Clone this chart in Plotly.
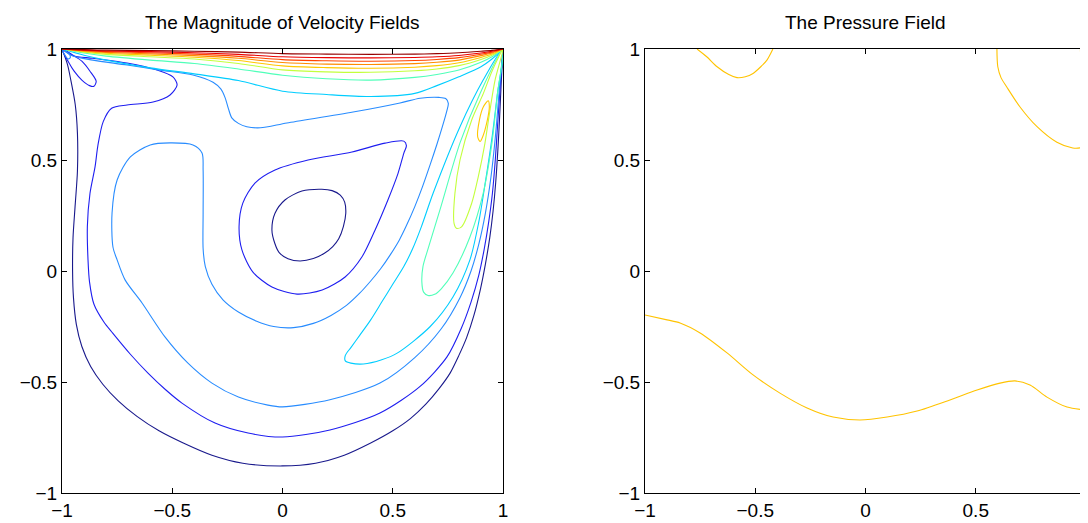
import plotly.graph_objects as go

# ---------------- data ----------------
tick_vals = [-1, -0.5, 0, 0.5, 1]
tick_text = ["\u22121", "\u22120.5", "0", "0.5", "1"]

# Velocity magnitude contours (left panel)
# Level 1 (darkest)
v1_loop_x = [0.178, 0.088, 0.011, -0.034, -0.048, -0.035, -0.015, 0.025, 0.08, 0.14, 0.19, 0.228, 0.255, 0.276, 0.287, 0.282, 0.262, 0.225, 0.178]
v1_loop_y = [0.368, 0.36, 0.32, 0.26, 0.185, 0.125, 0.083, 0.055, 0.045, 0.056, 0.08, 0.11, 0.145, 0.2, 0.26, 0.31, 0.342, 0.362, 0.368]
v1_outer_x = [-1, -0.975, -0.96, -0.94, -0.93, -0.93, -0.94, -0.95, -0.952, -0.948, -0.935, -0.91, -0.87, -0.815, -0.745, -0.66, -0.56, -0.45, -0.32, -0.18, 0, 0.15, 0.28, 0.4, 0.5, 0.58, 0.65, 0.71, 0.76, 0.8, 0.835, 0.868, 0.898, 0.92, 0.94, 0.955, 0.967, 0.977, 0.985, 0.992, 1]
v1_outer_y = [1, 0.93, 0.86, 0.75, 0.62, 0.45, 0.3, 0.15, 0.0, -0.12, -0.24, -0.34, -0.43, -0.51, -0.585, -0.655, -0.72, -0.775, -0.83, -0.866, -0.878, -0.866, -0.83, -0.775, -0.72, -0.665, -0.6, -0.53, -0.46, -0.38, -0.3, -0.2, -0.08, 0.03, 0.15, 0.27, 0.4, 0.55, 0.7, 0.85, 1]
# Level 2
v2_drop_x = [0.55, 0.465, 0.315, 0.116, -0.034, -0.125, -0.18, -0.197, -0.184, -0.134, -0.048, 0.066, 0.18, 0.284, 0.36, 0.42, 0.478, 0.524, 0.55, 0.562, 0.55]
v2_drop_y = [0.585, 0.576, 0.536, 0.5, 0.455, 0.396, 0.306, 0.2, 0.095, -0.005, -0.072, -0.104, -0.086, -0.027, 0.063, 0.185, 0.32, 0.44, 0.53, 0.565, 0.585]
v2_petal_x = [-1, -0.95, -0.91, -0.873, -0.845, -0.855, -0.875, -0.91, -0.945, -0.97, -1]
v2_petal_y = [1, 0.972, 0.945, 0.9, 0.855, 0.832, 0.835, 0.86, 0.9, 0.94, 1]
v2_outer_x = [-1, -0.95, -0.86, -0.705, -0.569, -0.497, -0.478, -0.51, -0.587, -0.705, -0.775, -0.813, -0.837, -0.85, -0.873, -0.885, -0.882, -0.875, -0.855, -0.81, -0.77, -0.69, -0.61, -0.53, -0.456, -0.306, -0.156, 0, 0.215, 0.442, 0.624, 0.746, 0.81, 0.855, 0.89, 0.915, 0.935, 0.952, 0.965, 0.975, 0.985, 1]
v2_outer_y = [1, 0.97, 0.958, 0.937, 0.905, 0.874, 0.838, 0.793, 0.761, 0.748, 0.733, 0.673, 0.567, 0.47, 0.35, 0.2, 0.05, -0.05, -0.15, -0.23, -0.28, -0.375, -0.46, -0.535, -0.595, -0.685, -0.73, -0.748, -0.716, -0.64, -0.52, -0.387, -0.26, -0.14, -0.02, 0.1, 0.22, 0.35, 0.5, 0.65, 0.8, 1]
# Level 3
v3_main_x = [1, 0.982, 0.965, 0.945, 0.92, 0.89, 0.855, 0.805, 0.72, 0.6, 0.442, 0.215, 0, -0.066, -0.2, -0.32, -0.43, -0.533, -0.637, -0.714, -0.75, -0.769, -0.773, -0.75, -0.69, -0.6, -0.51, -0.406, -0.365, -0.36, -0.36, -0.36, -0.35, -0.32, -0.27, -0.2, -0.12, -0.04, 0.05, 0.14, 0.22, 0.29, 0.35, 0.4, 0.445, 0.49, 0.53, 0.56, 0.6, 0.635, 0.67, 0.7, 0.725, 0.745, 0.752, 0.74, 0.71, 0.624, 0.533, 0.32, 0.02, -0.1, -0.162, -0.2, -0.23, -0.245, -0.26, -0.28, -0.315, -0.406, -0.556, -0.705, -0.86, -0.95, -1]
v3_main_y = [1, 0.8, 0.6, 0.42, 0.26, 0.12, 0.0, -0.12, -0.26, -0.39, -0.505, -0.58, -0.612, -0.604, -0.568, -0.505, -0.414, -0.297, -0.144, -0.04, 0.05, 0.108, 0.261, 0.41, 0.514, 0.568, 0.577, 0.568, 0.532, 0.455, 0.261, 0.1, 0.02, -0.06, -0.13, -0.185, -0.225, -0.25, -0.255, -0.236, -0.2, -0.155, -0.1, -0.045, 0.01, 0.075, 0.14, 0.2, 0.29, 0.38, 0.48, 0.57, 0.65, 0.72, 0.755, 0.777, 0.782, 0.778, 0.757, 0.716, 0.667, 0.645, 0.65, 0.665, 0.69, 0.73, 0.78, 0.82, 0.85, 0.883, 0.905, 0.928, 0.95, 0.968, 1]
v3_corner_x = [-1, -0.985, -0.972, -0.962, -0.97, -1]
v3_corner_y = [1, 0.97, 0.955, 0.962, 0.98, 1]
# Level 4
v4_finger_x = [1, 0.91, 0.805, 0.683, 0.63, 0.59, 0.55, 0.5, 0.45, 0.4, 0.35, 0.31, 0.285, 0.285, 0.31, 0.367, 0.45, 0.52, 0.67, 0.773, 0.85, 0.89, 0.92, 0.95, 0.975, 1]
v4_finger_y = [1, 0.86, 0.65, 0.35, 0.2, 0.1, 0.02, -0.06, -0.14, -0.22, -0.29, -0.345, -0.38, -0.405, -0.415, -0.419, -0.4, -0.37, -0.25, -0.117, 0.05, 0.22, 0.4, 0.6, 0.8, 1]
# Level 5
v5_finger_x = [1, 0.896, 0.805, 0.714, 0.66, 0.637, 0.632, 0.64, 0.66, 0.69, 0.72, 0.773, 0.85, 0.91, 0.95, 0.975, 1]
v5_finger_y = [1, 0.8, 0.577, 0.275, 0.1, 0.02, -0.05, -0.095, -0.11, -0.105, -0.08, -0.009, 0.153, 0.35, 0.577, 0.8, 1]
# Level 6
v6_finger_x = [1, 0.95, 0.911, 0.858, 0.805, 0.782, 0.778, 0.79, 0.813, 0.858, 0.888, 0.918, 0.941, 0.964, 1]
v6_finger_y = [1, 0.9, 0.8, 0.68, 0.5, 0.35, 0.215, 0.192, 0.2, 0.305, 0.425, 0.575, 0.725, 0.86, 1]
# Level 7
v7_loop_x = [0.933, 0.938, 0.929, 0.908, 0.896, 0.885, 0.893, 0.911, 0.933]
v7_loop_y = [0.767, 0.74, 0.68, 0.605, 0.583, 0.605, 0.68, 0.74, 0.767]
# Lines under the moving lid (levels 4 .. 11)
lid_x = [-1, -0.9, -0.8, -0.6, -0.4, -0.2, 0, 0.2, 0.4, 0.6, 0.7, 0.8, 0.9, 0.95, 1]
lid_y_4 = [1, 0.972, 0.95, 0.915, 0.888, 0.858, 0.81, 0.795, 0.786, 0.8, 0.835, 0.875, 0.92, 0.955, 1]
lid_y_5 = [1, 0.982, 0.968, 0.95, 0.935, 0.91, 0.882, 0.866, 0.86, 0.872, 0.885, 0.905, 0.94, 0.965, 1]
lid_y_6 = [1, 0.986, 0.976, 0.965, 0.955, 0.935, 0.906, 0.897, 0.895, 0.902, 0.91, 0.925, 0.953, 0.972, 1]
lid_y_7 = [1, 0.989, 0.981, 0.972, 0.963, 0.948, 0.924, 0.916, 0.913, 0.918, 0.925, 0.938, 0.962, 0.977, 1]
lid_y_8 = [1, 0.991, 0.985, 0.978, 0.97, 0.958, 0.939, 0.932, 0.93, 0.934, 0.94, 0.95, 0.97, 0.982, 1]
lid_y_9 = [1, 0.993, 0.988, 0.983, 0.977, 0.967, 0.952, 0.947, 0.945, 0.948, 0.953, 0.961, 0.976, 0.986, 1]
lid_y_10 = [1, 0.995, 0.991, 0.988, 0.983, 0.976, 0.965, 0.961, 0.96, 0.962, 0.965, 0.971, 0.982, 0.99, 1]
lid_y_11 = [1, 0.997, 0.995, 0.993, 0.99, 0.986, 0.979, 0.977, 0.976, 0.977, 0.979, 0.983, 0.99, 0.994, 1]

# Pressure contours (right panel)
p_topleft_x = [-0.764, -0.72, -0.673, -0.62, -0.583, -0.545, -0.51, -0.475, -0.447, -0.42]
p_topleft_y = [1, 0.965, 0.92, 0.885, 0.871, 0.875, 0.89, 0.92, 0.95, 1]
p_right_x = [0.596, 0.6, 0.615, 0.64, 0.70, 0.778, 0.868, 0.94, 0.975, 1]
p_right_y = [1, 0.92, 0.87, 0.83, 0.74, 0.65, 0.58, 0.554, 0.555, 0.565]
p_corner_x = [0.975, 0.976, 0.985, 1]
p_corner_y = [1, 0.983, 0.972, 0.97]
p_bottom_x = [-1, -0.9, -0.841, -0.75, -0.628, -0.51, -0.388, -0.265, -0.147, -0.025, 0.098, 0.234, 0.383, 0.506, 0.61, 0.678, 0.746, 0.823, 0.914, 1]
p_bottom_y = [-0.198, -0.22, -0.234, -0.279, -0.369, -0.468, -0.55, -0.617, -0.658, -0.671, -0.658, -0.631, -0.581, -0.536, -0.505, -0.495, -0.514, -0.568, -0.613, -0.626]

# ---------------- styles ----------------
level_colors = {
    1: "rgb(25,25,140)",
    2: "rgb(30,30,240)",
    3: "rgb(40,140,255)",
    4: "rgb(0,205,255)",
    5: "rgb(80,255,185)",
    6: "rgb(195,255,60)",
    7: "rgb(255,200,0)",
    8: "rgb(255,140,0)",
    9: "rgb(255,70,0)",
    10: "rgb(235,0,0)",
    11: "rgb(150,0,0)",
}
pressure_color = "rgb(255,195,0)"
FONT = "Liberation Sans, Arial, Helvetica, sans-serif"

velocity_curves = [
    (1, v1_loop_x, v1_loop_y), (1, v1_outer_x, v1_outer_y),
    (2, v2_drop_x, v2_drop_y), (2, v2_petal_x, v2_petal_y), (2, v2_outer_x, v2_outer_y),
    (3, v3_main_x, v3_main_y), (3, v3_corner_x, v3_corner_y),
    (4, v4_finger_x, v4_finger_y), (4, lid_x, lid_y_4),
    (5, v5_finger_x, v5_finger_y), (5, lid_x, lid_y_5),
    (6, v6_finger_x, v6_finger_y), (6, lid_x, lid_y_6),
    (7, v7_loop_x, v7_loop_y), (7, lid_x, lid_y_7),
    (8, lid_x, lid_y_8), (9, lid_x, lid_y_9), (10, lid_x, lid_y_10), (11, lid_x, lid_y_11),
]
pressure_curves = [
    (p_topleft_x, p_topleft_y), (p_right_x, p_right_y),
    (p_corner_x, p_corner_y), (p_bottom_x, p_bottom_y),
]

fig = go.Figure()
for lev, xs, ys in velocity_curves:
    fig.add_trace(go.Scatter(
        x=xs, y=ys, mode="lines", xaxis="x", yaxis="y",
        line=dict(color=level_colors[lev], width=1.1, shape="spline", smoothing=0.8),
        hoverinfo="skip", showlegend=False))
for xs, ys in pressure_curves:
    fig.add_trace(go.Scatter(
        x=xs, y=ys, mode="lines", xaxis="x2", yaxis="y2",
        line=dict(color=pressure_color, width=1.1, shape="spline", smoothing=0.8),
        hoverinfo="skip", showlegend=False))

# The page places the figure 8 px from the window's top-left corner,
# so the figure is 8 px smaller and every position is shifted by 8 px.
OFF = 8
W, H = 1088 - OFF, 523 - OFF
axis_common = dict(
    range=[-1, 1], tickvals=tick_vals, ticktext=tick_text, automargin=False,
    ticklabeloverflow="allow",
    showgrid=False, zeroline=False, showline=True, linecolor="black", linewidth=1,
    mirror="allticks", ticks="inside", ticklen=5, tickcolor="black",
    tickfont=dict(family=FONT, size=19, color="black"),
)
ydom = [(H - (493 - OFF)) / H, (H - (49 - OFF)) / H]
fig.update_layout(
    width=W, height=H,
    margin=dict(l=0, r=0, t=0, b=0, autoexpand=False),
    paper_bgcolor="white", plot_bgcolor="white",
    showlegend=False,
    xaxis=dict(domain=[(62 - OFF) / W, (503 - OFF) / W], anchor="y", **axis_common),
    yaxis=dict(domain=ydom, anchor="x", **axis_common),
    xaxis2=dict(domain=[(645 - OFF) / W, (1086 - OFF) / W], anchor="y2", **axis_common),
    yaxis2=dict(domain=ydom, anchor="x2", **axis_common),
    annotations=[
        dict(text="The Magnitude of Velocity Fields", x=((62 + 503) / 2 - OFF) / W, y=(H - (23 - OFF)) / H,
             xref="paper", yref="paper", xanchor="center", yanchor="middle", showarrow=False,
             font=dict(family=FONT, size=19, color="black")),
        dict(text="The Pressure Field", x=((645 + 1086) / 2 - OFF) / W, y=(H - (23 - OFF)) / H,
             xref="paper", yref="paper", xanchor="center", yanchor="middle", showarrow=False,
             font=dict(family=FONT, size=19, color="black")),
    ],
)

fig.write_html("out.html")
